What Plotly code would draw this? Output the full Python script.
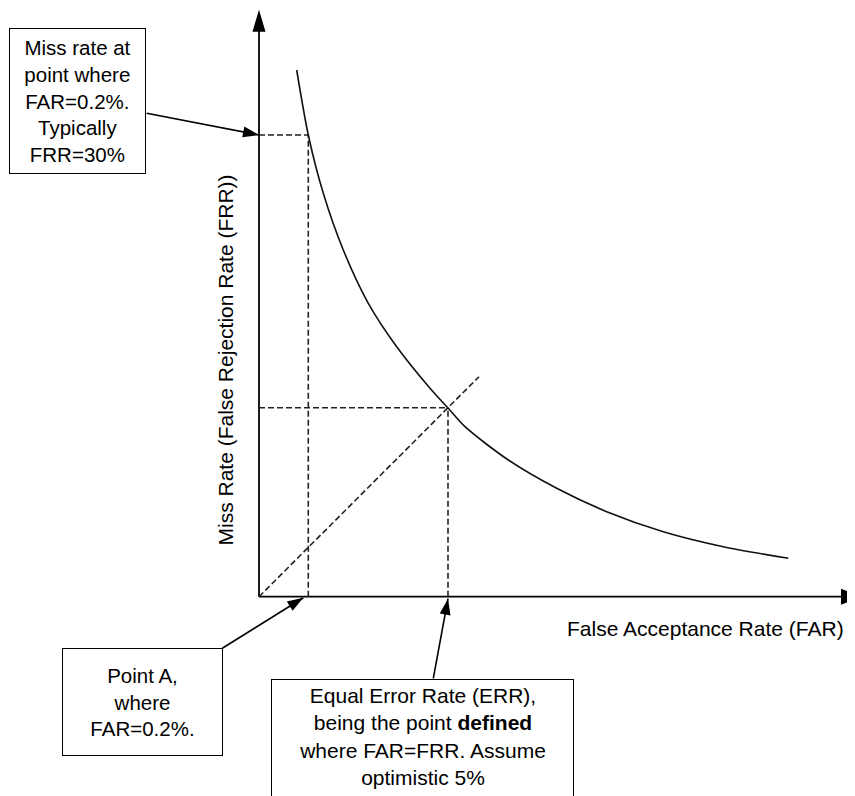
import math
import plotly.graph_objects as go

# ---------------- data (conceptual units, origin = axes crossing) ----------------
far_curve = [37.7, 49.3, 64.3, 84.3, 109.3, 137.7, 171.0, 189.3, 206.0, 249.3, 297.7, 347.7, 404.3, 464.3, 529.3]
frr_curve = [526.7, 461.7, 403.4, 346.7, 293.4, 250.0, 208.5, 188.4, 170.0, 136.7, 108.4, 85.0, 65.0, 50.0, 38.4]

FAR_A = 49.3      # point A (FAR = 0.2%)
FRR_A = 461.7     # miss rate at point A (FRR = 30%)
EER = 189.0       # equal error rate point (FAR = FRR)
DIAG_END = 220.0  # end of the FAR = FRR diagonal
X_AXIS_END = 604.0
Y_AXIS_END = 587.0

x_label = "False Acceptance Rate (FAR)"
y_label = "Miss Rate (False Rejection Rate (FRR))"
box_frr_text = "Miss rate at<br>point where<br>FAR=0.2%.<br>Typically<br>FRR=30%"
box_a_text = "Point A,<br>where<br>FAR=0.2%."
box_eer_text = "Equal Error Rate (ERR),<br>being the point <b>defined</b><br>where FAR=FRR. Assume<br>optimistic 5%"

# ---------------- layout geometry ----------------
# the page body has an 8px margin, so the figure is 8px smaller than the window
W, H = 847, 788
X_RANGE = [-251.0, 596.0]
Y_RANGE = [-199.3, 588.7]
sx = W / (X_RANGE[1] - X_RANGE[0])
sy = H / (Y_RANGE[1] - Y_RANGE[0])

FONT = "Liberation Sans, Arial, Helvetica, sans-serif"
DASH = "6px,3px"
DASH_COLOR = "#222222"


def head(tail, tip, length, width):
    dx = (tip[0] - tail[0]) * sx
    dy = (tip[1] - tail[1]) * sy
    n = math.hypot(dx, dy)
    ux, uy = dx / n, dy / n
    bx, by = -length * ux, -length * uy
    px, py = -uy * width / 2, ux * width / 2
    path = (f"M0,0 L{bx + px:.2f},{by + py:.2f} "
            f"L{bx - px:.2f},{by - py:.2f} Z")
    return dict(type="path", xref="x", yref="y", xsizemode="pixel",
                ysizemode="pixel", xanchor=tip[0], yanchor=tip[1],
                path=path, fillcolor="black", line=dict(width=0),
                layer="above")


fig = go.Figure()


def line(xs, ys, color="black", width=1.5, dash=None):
    fig.add_trace(go.Scatter(x=xs, y=ys, mode="lines",
                             line=dict(color=color, width=width, dash=dash),
                             hoverinfo="skip", showlegend=False))


# axes
line([0, 0], [0, Y_AXIS_END - 15], width=1.8)
line([0, X_AXIS_END - 15], [0, 0], width=1.8)

# dashed guides
line([0, FAR_A], [FRR_A, FRR_A], DASH_COLOR, 1.6, DASH)
line([FAR_A, FAR_A], [0, FRR_A], DASH_COLOR, 1.6, DASH)
line([0, EER], [EER, EER], DASH_COLOR, 1.6, DASH)
line([EER, EER], [0, EER], DASH_COLOR, 1.6, DASH)
line([0, DIAG_END], [0, DIAG_END], DASH_COLOR, 1.6, DASH)

# the curve
fig.add_trace(go.Scatter(x=far_curve, y=frr_curve, mode="lines",
                         line=dict(color="#111111", width=1.6, shape="spline", smoothing=0.8),
                         hoverinfo="skip", showlegend=False))

# callout arrows
arrows = [
    ((-112.3, 483.4), (0.0, FRR_A)),
    ((-36.7, -51.6), (FAR_A - 5, -1.0)),
    ((174.3, -81.6), (EER, -2.0)),
]
shapes = [head((0, 0), (0, Y_AXIS_END), 22, 13),
          head((0, 0), (X_AXIS_END, 0), 22, 16)]
for tail, tip in arrows:
    line([tail[0], tip[0]], [tail[1], tip[1]], "black", 1.6)
    shapes.append(head(tail, tip, 16, 11))

annotations = [
    dict(x=-181.5, y=495.9, xref="x", yref="y", text=box_frr_text,
         showarrow=False, xanchor="center", yanchor="middle",
         width=135, height=144, borderpad=0, bordercolor="black",
         borderwidth=1, bgcolor="white", align="center",
         font=dict(size=20.5, color="black", family=FONT)),
    dict(x=-116.5, y=-105.0, xref="x", yref="y", text=box_a_text,
         showarrow=False, xanchor="center", yanchor="middle",
         width=159, height=106, borderpad=0, bordercolor="black",
         borderwidth=1, bgcolor="white", align="center",
         font=dict(size=20.5, color="black", family=FONT)),
    dict(x=163.9, y=-82.6, xref="x", yref="y", text=box_eer_text,
         showarrow=False, xanchor="center", yanchor="top",
         width=293, height=130, borderpad=4, bordercolor="black",
         borderwidth=1, bgcolor="white", align="center", valign="top",
         font=dict(size=21, color="black", family=FONT)),
    dict(x=446.5, y=-32.0, xref="x", yref="y", text=x_label,
         showarrow=False, xanchor="center", yanchor="middle",
         font=dict(size=21, color="black", family=FONT)),
    dict(x=-34.5, y=236.7, xref="x", yref="y", text=y_label,
         showarrow=False, xanchor="center", yanchor="middle", textangle=-90,
         font=dict(size=21, color="black", family=FONT)),
]

fig.update_layout(
    width=W, height=H,
    margin=dict(l=0, r=0, t=0, b=0, pad=0),
    paper_bgcolor="white", plot_bgcolor="white",
    xaxis=dict(range=X_RANGE, visible=False, fixedrange=True),
    yaxis=dict(range=Y_RANGE, visible=False, fixedrange=True),
    shapes=shapes, annotations=annotations,
    showlegend=False,
    font=dict(family=FONT),
)

fig.write_html("out.html")
